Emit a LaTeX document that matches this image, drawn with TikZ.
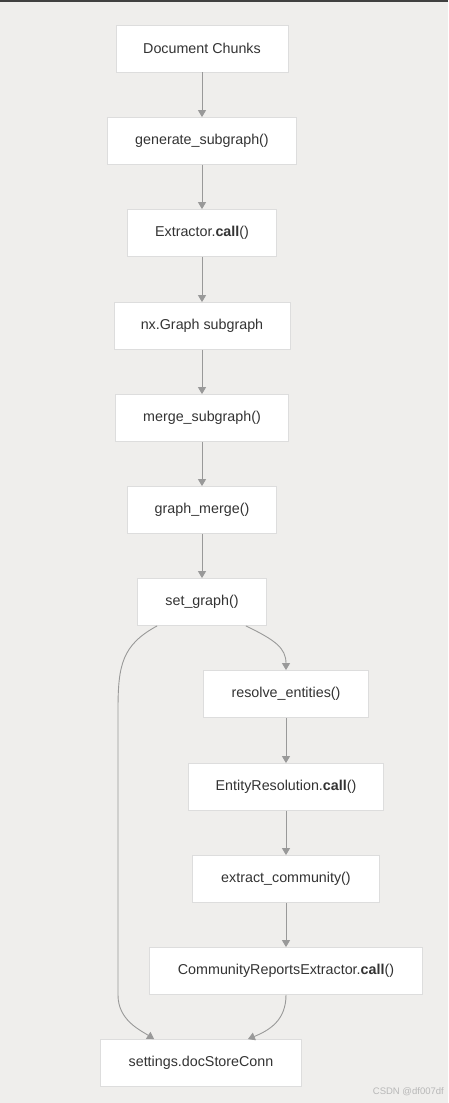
\documentclass[tikz,border=0pt]{standalone}
\usepackage{fontspec}
\setmainfont{Liberation Sans}
\usetikzlibrary{arrows.meta}
\definecolor{bg}{HTML}{EFEEEC}
\definecolor{edge}{HTML}{999999}
\definecolor{boxline}{HTML}{DDDDDD}
\definecolor{txt}{HTML}{333333}
\begin{document}
\begin{tikzpicture}[x=1pt,y=-1pt,
  box/.style={draw=boxline,line width=0.8pt,fill=white,minimum height=47pt,inner sep=0pt,text=txt,font=\fontsize{14.3}{17}\selectfont},
  conn/.style={draw=edge,line width=0.9pt,-{Triangle[width=8pt,length=7pt]}}]
\fill[bg] (0,0) rectangle (448,1103);
\useasboundingbox (0,0) rectangle (448,1103);
\fill[black!75] (0,0) rectangle (448,1.5);
\node[box,minimum width=172pt] (dc) at (202,48.5) {Document Chunks};
\node[box,minimum width=189pt] (gs) at (202,141) {generate\_subgraph()};
\node[box,minimum width=149pt] (ex) at (202,233) {Extractor.\textbf{call}()};
\node[box,minimum width=176pt] (nx) at (202,326) {nx.Graph subgraph};
\node[box,minimum width=173pt] (ms) at (202,418) {merge\_subgraph()};
\node[box,minimum width=149pt] (gm) at (202,510) {graph\_merge()};
\node[box,minimum width=129pt] (sg) at (202,602) {set\_graph()};
\node[box,minimum width=165pt] (re) at (286,694) {resolve\_entities()};
\node[box,minimum width=195pt] (er) at (286,787) {EntityResolution.\textbf{call}()};
\node[box,minimum width=187pt] (ec) at (286,879) {extract\_community()};
\node[box,minimum width=273pt] (cr) at (286,971) {CommunityReportsExtractor.\textbf{call}()};
\node[box,minimum width=201pt] (sd) at (201,1063) {settings.docStoreConn};
\node[text=black!28,font=\fontsize{9.5}{11}\selectfont,anchor=east,inner sep=0pt] (wm) at (444,1092) {CSDN @df007df};
\draw[conn] (dc) -- (gs);
\draw[conn] (gs) -- (ex);
\draw[conn] (ex) -- (nx);
\draw[conn] (nx) -- (ms);
\draw[conn] (ms) -- (gm);
\draw[conn] (gm) -- (sg);
\draw[conn] (re) -- (er);
\draw[conn] (er) -- (ec);
\draw[conn] (ec) -- (cr);
\draw[conn] ([xshift=20pt]sg.south west) .. controls (122,645) and (118,665) .. (118,710) -- (118,995) .. controls (118,1020) and (140,1030) .. ([xshift=54pt]sd.north west);
\draw[conn] ([xshift=-21pt]sg.south east) .. controls (275,640) and (286,648) .. (re.north);
\draw[conn] (cr.south) .. controls (286,1020) and (270,1030) .. ([xshift=-54pt]sd.north east);
\end{tikzpicture}
\end{document}
